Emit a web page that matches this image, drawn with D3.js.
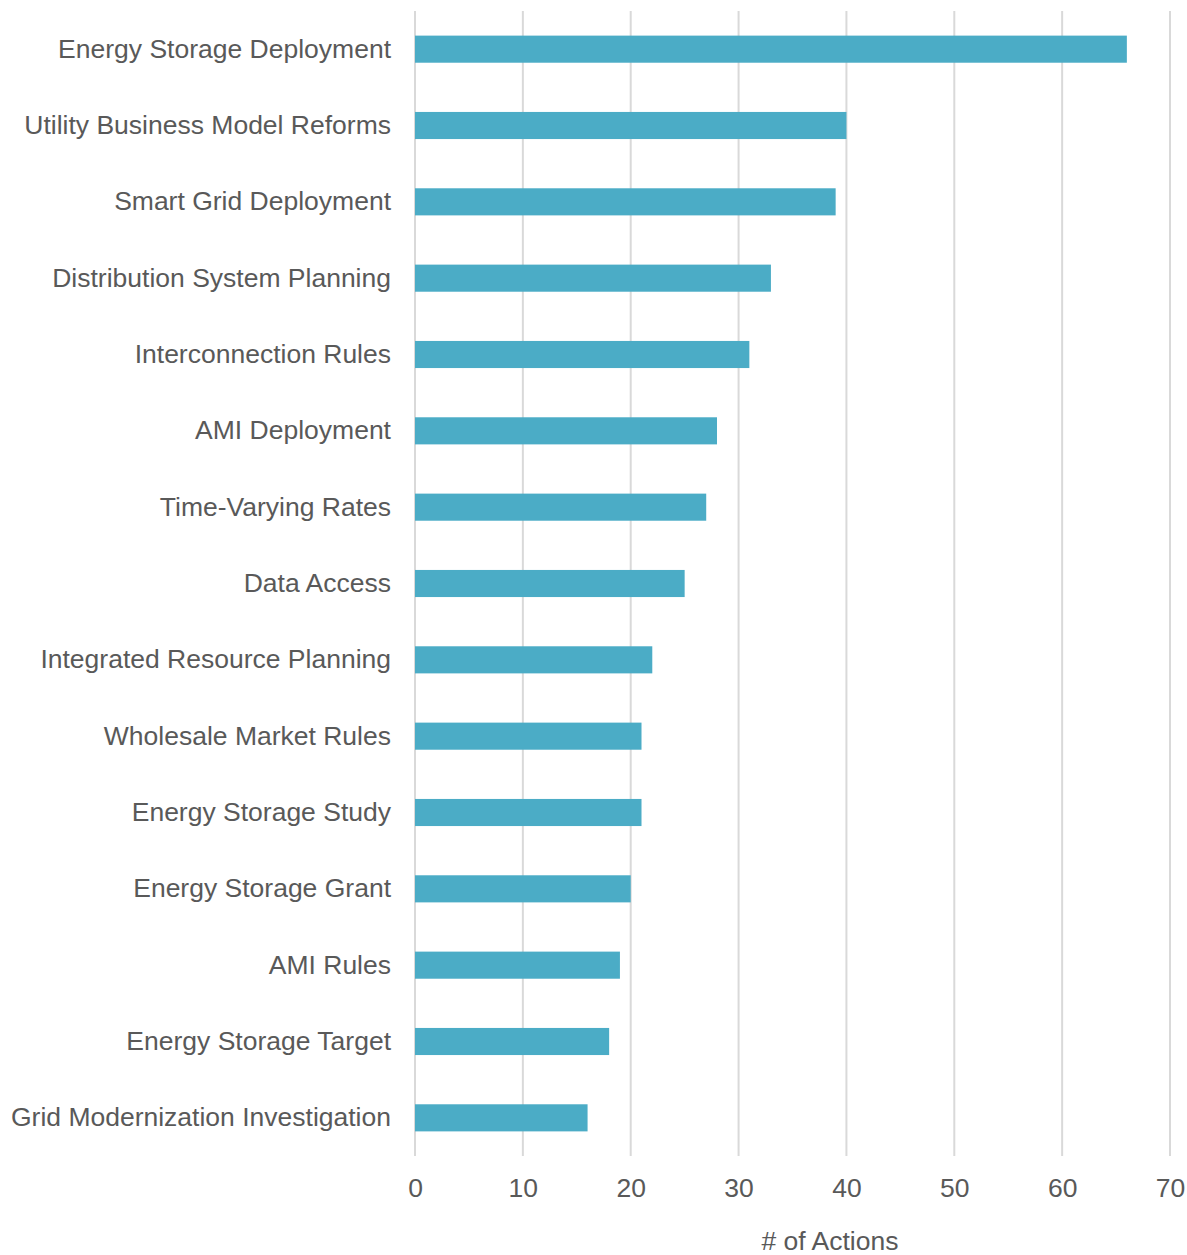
<!DOCTYPE html>
<meta charset="utf-8">
<title>Actions by type</title>
<script src="https://d3js.org/d3.v7.min.js"></script>
<style>
  body { margin: 0; background: #fff; }
  text { font-family: "Liberation Sans", Arial, sans-serif; fill: #595959; }
</style>
<body>
<div id="chart"></div>
<script>
const categories = [
  "Energy Storage Deployment",
  "Utility Business Model Reforms",
  "Smart Grid Deployment",
  "Distribution System Planning",
  "Interconnection Rules",
  "AMI Deployment",
  "Time-Varying Rates",
  "Data Access",
  "Integrated Resource Planning",
  "Wholesale Market Rules",
  "Energy Storage Study",
  "Energy Storage Grant",
  "AMI Rules",
  "Energy Storage Target",
  "Grid Modernization Investigation"
]
const actions = [66, 40, 39, 33, 31, 28, 27, 25, 22, 21, 21, 20, 19, 18, 16]
const xTicks = [0, 10, 20, 30, 40, 50, 60, 70]
const axisTitle = "# of Actions"

const width = 1187, height = 1255
const margin = {top: 11, right: 17, bottom: 99, left: 415}
const fontSize = 26.5

const svg = d3.select("#chart").append("svg")
    .attr("width", width)
    .attr("height", height)

const x = d3.scaleLinear()
    .domain([0, 70])
    .range([margin.left, width - margin.right])

const y = d3.scaleBand()
    .domain(categories)
    .range([margin.top, height - margin.bottom])
    .paddingInner(0.645)
    .paddingOuter(0.3225)

// gridlines
svg.append("g")
  .selectAll("line")
  .data(xTicks)
  .join("line")
    .attr("x1", d => x(d))
    .attr("x2", d => x(d))
    .attr("y1", margin.top)
    .attr("y2", height - margin.bottom)
    .attr("stroke", "#d9d9d9")
    .attr("stroke-width", 2)

// bars
svg.append("g")
    .attr("fill", "#4bacc6")
  .selectAll("rect")
  .data(actions)
  .join("rect")
    .attr("x", x(0))
    .attr("y", (d, i) => y(categories[i]))
    .attr("width", d => x(d) - x(0))
    .attr("height", y.bandwidth())

// x axis tick labels
const xAxis = d3.axisBottom(x).tickValues(xTicks).tickSize(0).tickPadding(22)
svg.append("g")
    .attr("transform", `translate(0,${height - margin.bottom})`)
    .call(xAxis)
    .call(g => g.select(".domain").remove())
    .call(g => g.selectAll("text")
        .attr("font-size", fontSize)
        .attr("font-family", null)
        .attr("fill", "#595959"))

// y axis labels
const yAxis = d3.axisLeft(y).tickSize(0).tickPadding(24)
svg.append("g")
    .attr("transform", `translate(${margin.left},0)`)
    .call(yAxis)
    .call(g => g.select(".domain").remove())
    .call(g => g.selectAll("text")
        .attr("font-size", fontSize)
        .attr("font-family", null)
        .attr("fill", "#595959"))

svg.append("text")
    .attr("x", 830)
    .attr("y", 1250)
    .attr("text-anchor", "middle")
    .attr("font-size", fontSize)
    .text(axisTitle)
</script>
</body>
